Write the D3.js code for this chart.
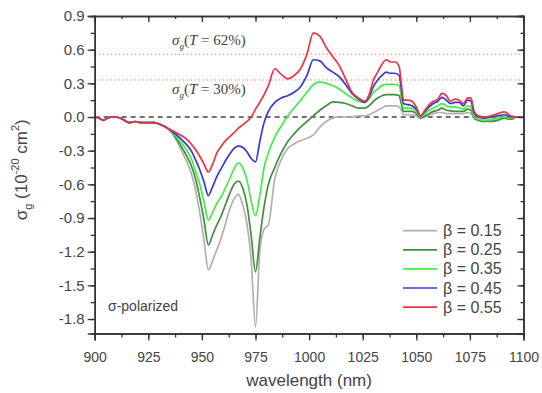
<!DOCTYPE html>
<html><head><meta charset="utf-8">
<script src="https://cdn.jsdelivr.net/npm/d3@7"></script>
<style>body{margin:0;background:#fff}svg{display:block}</style>
</head><body><svg id="c" width="542" height="393"></svg>
<script>
const wavelength = [900,902,904,906,908,910,913,916,919,922,925,928,931,934,937,940,943,945,947,949,951,953,955,957,959,961,963,965,967,969,971,973,975,977,979,981,984,987,990,993,996,999,1002,1005,1008,1011,1014,1017,1020,1023,1026,1028,1030,1032,1034,1036,1038,1040,1042,1043,1044,1046,1048,1050,1052,1054,1056,1058,1060,1062,1064,1066,1068,1070,1072,1074,1075.5,1077,1079,1082,1085,1088,1091,1094,1097,1100];
const base = [0,-0.01,-0.03,-0.01,0,0,-0.02,-0.05,-0.04,-0.05,-0.05,-0.05,-0.07,-0.1];
const beta015 = base.concat([-0.17,-0.28,-0.40,-0.50,-0.65,-0.85,-1.10,-1.36,-1.28,-1.18,-1.08,-0.95,-0.82,-0.73,-0.69,-0.78,-0.95,-1.28,-1.87,-1.2,-1.0,-0.96,-0.55,-0.38,-0.28,-0.24,-0.21,-0.19,-0.16,-0.09,-0.04,-0.01,0.0,0.0,0.0,0.01,0.01,0.02,0.04,0.06,0.08,0.10,0.10,0.10,0.09,0.06,0.02,0.02,0.02,0.01,-0.01,0.0,0.02,0.03,0.04,0.04,0.03,0.03,0.03,0.03,0.03,0.04,0.03,-0.01,-0.02,-0.03,-0.03,-0.02,-0.01,-0.02,0.0,0.0]);
const beta025 = base.concat([-0.16,-0.25,-0.35,-0.43,-0.55,-0.72,-0.92,-1.14,-1.05,-0.96,-0.88,-0.78,-0.68,-0.60,-0.57,-0.63,-0.78,-1.06,-1.38,-1.08,-0.8,-0.6,-0.45,-0.32,-0.22,-0.15,-0.09,-0.04,0.01,0.06,0.10,0.135,0.13,0.12,0.10,0.08,0.08,0.10,0.14,0.17,0.19,0.20,0.20,0.20,0.19,0.12,0.05,0.05,0.05,0.03,-0.01,0.01,0.03,0.05,0.06,0.08,0.06,0.055,0.05,0.05,0.05,0.07,0.06,-0.01,-0.03,-0.04,-0.04,-0.03,-0.01,-0.02,0.0,0.0]);
const beta035 = base.concat([-0.15,-0.22,-0.30,-0.37,-0.48,-0.60,-0.76,-0.92,-0.85,-0.77,-0.71,-0.63,-0.55,-0.46,-0.41,-0.45,-0.56,-0.75,-0.88,-0.70,-0.45,-0.32,-0.18,-0.08,0.01,0.08,0.15,0.22,0.29,0.31,0.30,0.28,0.25,0.21,0.17,0.14,0.13,0.16,0.22,0.25,0.28,0.29,0.29,0.29,0.28,0.18,0.08,0.08,0.08,0.05,0.0,0.03,0.06,0.08,0.10,0.12,0.10,0.09,0.09,0.08,0.07,0.10,0.09,0.0,-0.02,-0.03,-0.02,-0.01,0.0,-0.01,0.0,0.0]);
const beta045 = base.concat([-0.14,-0.19,-0.25,-0.30,-0.38,-0.47,-0.58,-0.70,-0.62,-0.53,-0.46,-0.39,-0.33,-0.28,-0.26,-0.27,-0.31,-0.37,-0.40,-0.22,-0.05,0.05,0.13,0.17,0.19,0.22,0.27,0.37,0.51,0.50,0.44,0.40,0.36,0.29,0.21,0.16,0.13,0.18,0.27,0.33,0.37,0.40,0.39,0.39,0.37,0.25,0.12,0.11,0.10,0.07,0.01,0.05,0.09,0.12,0.14,0.175,0.15,0.12,0.13,0.13,0.10,0.15,0.14,0.03,0.0,-0.01,0.0,0.01,0.02,0.0,0.0,0.0]);
const beta055 = base.concat([-0.13,-0.16,-0.20,-0.24,-0.29,-0.35,-0.42,-0.49,-0.42,-0.32,-0.26,-0.21,-0.175,-0.14,-0.10,-0.07,-0.04,0.0,0.07,0.13,0.2,0.28,0.43,0.38,0.34,0.37,0.43,0.56,0.75,0.72,0.62,0.54,0.46,0.34,0.22,0.17,0.14,0.2,0.33,0.40,0.47,0.51,0.49,0.49,0.45,0.3,0.15,0.15,0.14,0.09,0.01,0.06,0.11,0.14,0.16,0.21,0.19,0.14,0.16,0.15,0.12,0.17,0.17,0.05,0.01,0.0,0.01,0.03,0.045,0.01,0.0,0.0]);
const seriesNames = ["β = 0.15","β = 0.25","β = 0.35","β = 0.45","β = 0.55"];
const seriesValues = [beta015, beta025, beta035, beta045, beta055];
const seriesColors = ["#b0b0b0","#3f8f3f","#44ee44","#3838d8","#ee3344"];
const xTicks = [900,925,950,975,1000,1025,1050,1075,1100];
const yTicks = [0.9,0.6,0.3,0.0,-0.3,-0.6,-0.9,-1.2,-1.5,-1.8];
const refLevels = [0.56, 0.33];

const svg = d3.select("#c");
const L = 94.7, R = 523.5, T = 16, B = 333.5;
const x = d3.scaleLinear().domain([900,1100]).range([L,R]);
const y = d3.scaleLinear().domain([-1.929,0.9]).range([B,T]);
const axisColor = "#333", textColor = "#444";

// reference lines
svg.selectAll(".ref").data(refLevels).enter().append("line")
  .attr("x1",L).attr("x2",R).attr("y1",d=>y(d)).attr("y2",d=>y(d))
  .attr("stroke","#f07080").attr("stroke-width",1).attr("stroke-dasharray","1.5,2.5");
svg.append("line").attr("x1",L).attr("x2",R).attr("y1",y(0)).attr("y2",y(0))
  .attr("stroke","#444").attr("stroke-width",1.3).attr("stroke-dasharray","5,4");

// curves
const line = d3.line().curve(d3.curveMonotoneX).x((d,i)=>x(wavelength[i])).y(d=>y(d));
seriesValues.forEach((vals,k)=>{
  svg.append("path").attr("d",line(vals)).attr("fill","none")
    .attr("stroke",seriesColors[k]).attr("stroke-width",1.7).attr("stroke-linejoin","round");
});

// axes
const fmtY = d=> d3.format(".1f")(d).replace("−","-");
const yMinor = d3.range(-1.95,0.91,0.15).map(v=>+v.toFixed(2)).filter(v=>v>=-1.93);
const xMinor = d3.range(900,1101,12.5);
function styleAxis(g){ g.select(".domain").attr("stroke",axisColor).attr("stroke-width",1.5);
  g.selectAll(".tick line").attr("stroke",axisColor).attr("stroke-width",1.3);
  g.selectAll("text").attr("fill",textColor).attr("font-family","Arial, Liberation Sans, sans-serif");}
svg.append("g").attr("transform",`translate(0,${B})`)
  .call(d3.axisBottom(x).tickValues(xMinor).tickSize(4).tickFormat("")).call(styleAxis);
svg.append("g").attr("transform",`translate(0,${B})`)
  .call(d3.axisBottom(x).tickValues(xTicks).tickSize(7).tickPadding(12).tickFormat(d3.format("d")))
  .call(styleAxis).selectAll("text").attr("font-size",14);
svg.append("g").attr("transform",`translate(${L},0)`)
  .call(d3.axisLeft(y).tickValues(yMinor).tickSize(4).tickFormat("")).call(styleAxis);
svg.append("g").attr("transform",`translate(${L},0)`)
  .call(d3.axisLeft(y).tickValues(yTicks).tickSize(7).tickPadding(3).tickFormat(fmtY))
  .call(styleAxis).selectAll("text").attr("font-size",15);
svg.append("g").attr("transform",`translate(0,${T})`)
  .call(d3.axisBottom(x).tickValues(xMinor).tickSize(3).tickFormat("")).call(styleAxis);
svg.append("g").attr("transform",`translate(0,${T})`)
  .call(d3.axisBottom(x).tickValues(xTicks).tickSize(6).tickFormat("")).call(styleAxis);
svg.append("g").attr("transform",`translate(${R},0)`)
  .call(d3.axisLeft(y).tickValues(yMinor).tickSize(3).tickFormat("")).call(styleAxis);
svg.append("g").attr("transform",`translate(${R},0)`)
  .call(d3.axisLeft(y).tickValues(yTicks).tickSize(6).tickFormat("")).call(styleAxis);

// titles
svg.append("text").attr("x",(L+R)/2).attr("y",386).attr("text-anchor","middle")
  .attr("font-family","Arial, Liberation Sans, sans-serif").attr("font-size",17).attr("fill",textColor)
  .text("wavelength (nm)");
const yt = svg.append("text").attr("transform",`translate(27,${(T+B)/2-5}) rotate(-90)`)
  .attr("text-anchor","middle").attr("font-family","Arial, Liberation Sans, sans-serif")
  .attr("font-size",17).attr("fill",textColor);
yt.append("tspan").text("σ");
yt.append("tspan").attr("font-size",11).attr("dy",5).text("g");
yt.append("tspan").attr("dy",-5).text(" (10");
yt.append("tspan").attr("font-size",11).attr("dy",-8).text("-20");
yt.append("tspan").attr("dy",8).text(" cm");
yt.append("tspan").attr("font-size",11).attr("dy",-8).text("2");
yt.append("tspan").attr("dy",8).text(")");

// annotations
const annots = [{t:"62%",yb:45},{t:"30%",yb:94}];
annots.forEach(a=>{
  const tx = svg.append("text").attr("x",172).attr("y",a.yb)
    .attr("font-family","Liberation Serif, Times New Roman, serif").attr("font-size",15).attr("fill","#444");
  tx.append("tspan").attr("font-style","italic").text("σ");
  tx.append("tspan").attr("font-size",9).attr("dy",4).attr("font-style","italic").text("g");
  tx.append("tspan").attr("dy",-4).text("(");
  tx.append("tspan").attr("font-style","italic").text("T");
  tx.append("tspan").text(" = "+a.t+")");
});
svg.append("text").attr("x",108).attr("y",311).attr("font-family","Arial, Liberation Sans, sans-serif")
  .attr("font-size",14).attr("fill",textColor).text("σ-polarized");

// legend
const lg = svg.append("g");
seriesNames.forEach((n,k)=>{
  const yy = 230.7 + k*19.1;
  lg.append("line").attr("x1",403).attr("x2",437).attr("y1",yy).attr("y2",yy)
    .attr("stroke",seriesColors[k]).attr("stroke-width",1.7);
  lg.append("text").attr("x",443).attr("y",yy+5.5).attr("font-family","Arial, Liberation Sans, sans-serif")
    .attr("font-size",16).attr("fill",textColor).text(n);
});
</script></body></html>
